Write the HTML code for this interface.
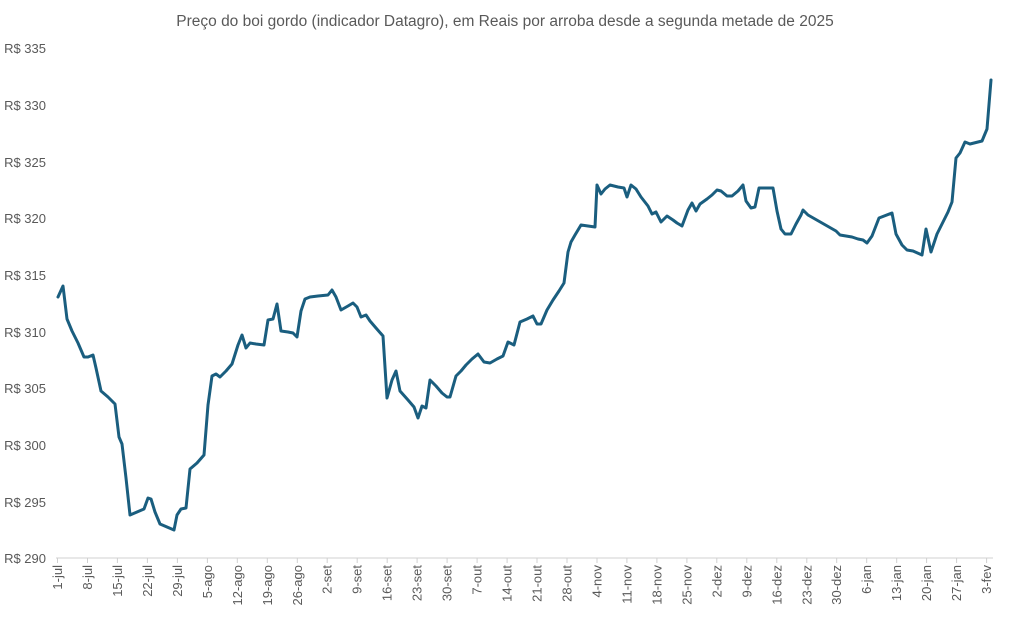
<!DOCTYPE html>
<html><head><meta charset="utf-8"><style>
body{margin:0;background:#fff;}
svg{display:block;font-family:"Liberation Sans",sans-serif;}
</style></head><body>
<svg width="1011" height="629" viewBox="0 0 1011 629" xmlns="http://www.w3.org/2000/svg">
<text x="505" y="26" text-anchor="middle" font-size="15.5" fill="#595959">Preço do boi gordo (indicador Datagro), em Reais por arroba desde a segunda metade de 2025</text>
<g font-size="13" fill="#595959" text-anchor="end">
<text x="46" y="53">R$ 335</text>
<text x="46" y="110">R$ 330</text>
<text x="46" y="167">R$ 325</text>
<text x="46" y="223">R$ 320</text>
<text x="46" y="280">R$ 315</text>
<text x="46" y="337">R$ 310</text>
<text x="46" y="393">R$ 305</text>
<text x="46" y="450">R$ 300</text>
<text x="46" y="507">R$ 295</text>
<text x="46" y="563">R$ 290</text>
</g>
<line x1="56" y1="558" x2="993" y2="558" stroke="#d0d0d0" stroke-width="1"/>
<path stroke="#d0d0d0" stroke-width="1" fill="none" d="M57.5,558v5M87.5,558v5M117.4,558v5M147.4,558v5M177.4,558v5M207.4,558v5M237.3,558v5M267.3,558v5M297.3,558v5M327.2,558v5M357.2,558v5M387.2,558v5M417.1,558v5M447.1,558v5M477.1,558v5M507.1,558v5M537,558v5M567,558v5M597,558v5M626.9,558v5M656.9,558v5M686.9,558v5M716.8,558v5M746.8,558v5M776.8,558v5M806.8,558v5M836.7,558v5M866.7,558v5M896.7,558v5M926.6,558v5M956.6,558v5M986.6,558v5"/>
<g font-size="13" fill="#595959" text-anchor="end">
<text transform="translate(62,565) rotate(-90)">1-jul</text>
<text transform="translate(92,565) rotate(-90)">8-jul</text>
<text transform="translate(121.9,565) rotate(-90)">15-jul</text>
<text transform="translate(151.9,565) rotate(-90)">22-jul</text>
<text transform="translate(181.9,565) rotate(-90)">29-jul</text>
<text transform="translate(211.9,565) rotate(-90)">5-ago</text>
<text transform="translate(241.8,565) rotate(-90)">12-ago</text>
<text transform="translate(271.8,565) rotate(-90)">19-ago</text>
<text transform="translate(301.8,565) rotate(-90)">26-ago</text>
<text transform="translate(331.7,565) rotate(-90)">2-set</text>
<text transform="translate(361.7,565) rotate(-90)">9-set</text>
<text transform="translate(391.7,565) rotate(-90)">16-set</text>
<text transform="translate(421.6,565) rotate(-90)">23-set</text>
<text transform="translate(451.6,565) rotate(-90)">30-set</text>
<text transform="translate(481.6,565) rotate(-90)">7-out</text>
<text transform="translate(511.6,565) rotate(-90)">14-out</text>
<text transform="translate(541.5,565) rotate(-90)">21-out</text>
<text transform="translate(571.5,565) rotate(-90)">28-out</text>
<text transform="translate(601.5,565) rotate(-90)">4-nov</text>
<text transform="translate(631.4,565) rotate(-90)">11-nov</text>
<text transform="translate(661.4,565) rotate(-90)">18-nov</text>
<text transform="translate(691.4,565) rotate(-90)">25-nov</text>
<text transform="translate(721.3,565) rotate(-90)">2-dez</text>
<text transform="translate(751.3,565) rotate(-90)">9-dez</text>
<text transform="translate(781.3,565) rotate(-90)">16-dez</text>
<text transform="translate(811.3,565) rotate(-90)">23-dez</text>
<text transform="translate(841.2,565) rotate(-90)">30-dez</text>
<text transform="translate(871.2,565) rotate(-90)">6-jan</text>
<text transform="translate(901.2,565) rotate(-90)">13-jan</text>
<text transform="translate(931.1,565) rotate(-90)">20-jan</text>
<text transform="translate(961.1,565) rotate(-90)">27-jan</text>
<text transform="translate(991.1,565) rotate(-90)">3-fev</text>
</g>
<polyline fill="none" stroke="#1a5e7f" stroke-width="3" stroke-linejoin="round" stroke-linecap="round" points="58,297 63,286 67,319 72,331 78,343 84,357 88,357 93,355 96,368 101,391 108,397 115,404 119,437 122,444 126,478 130,515 137,512 144,509 148,498 151,499 155,512 160,524 167,527 174,530 177,515 181,509 186,508 190,469 197,463 204,455 208,405 212,376 216,374 220,377 226,371 232,364 238,345 242,335 246,348 250,343 256,344 264,345 268,320 273,319 277,304 281,331 288,332 293,333 297,337 301,311 305,299 310,297 318,296 328,295 332,290 336,297 341,310 348,306 353,303 357,307 361,317 366,315 370,321 376,328 383,336 387,398 392,380 396,371 400,391 408,400 414,407 418,418 422,406 426,408 430,380 436,386 442,393 447,397 450,397 456,376 461,371 466,365 472,359 478,354 484,362 490,363 497,359 503,356 508,342 514,345 520,322 527,319 533,316 537,324 541,324 547,310 553,300 559,291 564,283 568,252 571,242 575,235 581,225 588,226 595,227 597,185 601,194 605,189 610,185 618,187 624,188 627,197 631,185 636,189 641,197 648,206 652,214 656,212 661,222 667,216 673,220 677,223 682,226 688,210 692,203 696,211 700,204 707,199 712,195 717,190 721,191 727,196 732,196 738,191 743,185 746,201 751,208 755,207 759,188 768,188 773,188 777,211 781,229 785,234 791,234 796,224 801,215 803,210 808,215 815,219 822,223 829,227 836,231 840,235 846,236 852,237 858,239 863,240 867,243 872,236 879,218 892,213 896,234 902,245 907,250 913,251 922,255 926,229 931,252 937,234 943,222 948,212 952,202 956,158 960,153 965,142 970,144 982,141 987,129 991,80"/>
</svg>
</body></html>
